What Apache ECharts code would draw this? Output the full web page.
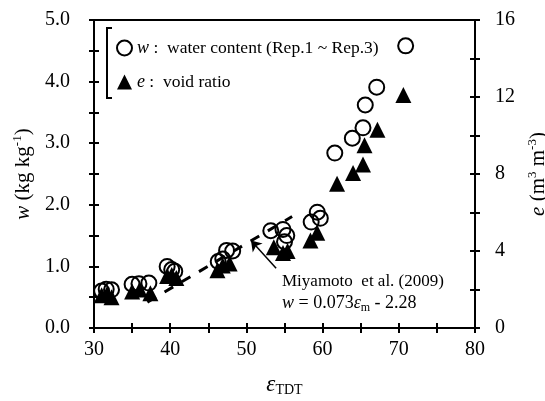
<!DOCTYPE html>
<html>
<head>
<meta charset="utf-8">
<script src="https://cdn.jsdelivr.net/npm/echarts@6/dist/echarts.min.js"></script>
<style>
  html, body { margin: 0; padding: 0; background: #fff; }
  #chart { width: 545px; height: 401px; }
</style>
</head>
<body>
<div id="chart"></div>
<script>
	// w : water content (Rep.1 ~ Rep.3)
	var epsW = [31.0, 31.6, 32.3, 35.0, 35.9, 37.2, 39.6, 40.2, 40.6, 46.3, 46.9, 47.4, 48.2,
		53.2, 54.8, 55.3, 55.0, 58.5, 59.3, 59.7, 61.6, 63.9, 65.3, 65.6, 67.1, 70.9];
	var wVals = [0.60, 0.63, 0.62, 0.71, 0.72, 0.73, 1.00, 0.95, 0.92, 1.08, 1.12, 1.26, 1.25,
		1.58, 1.60, 1.50, 1.40, 1.72, 1.88, 1.78, 2.84, 3.08, 3.25, 3.62, 3.91, 4.58];
	// e : void ratio
	var epsE = [31.0, 31.7, 32.3, 35.0, 36.0, 37.4, 39.6, 40.2, 40.8, 46.2, 46.9, 47.8,
		53.6, 54.8, 55.4, 58.4, 59.3, 61.9, 64.0, 65.3, 65.5, 67.2, 70.6];
	var eVals = [1.70, 1.75, 1.60, 1.90, 2.00, 1.80, 2.70, 2.75, 2.60, 3.00, 3.25, 3.35,
		4.20, 3.90, 4.00, 4.55, 4.95, 7.50, 8.05, 8.50, 9.50, 10.30, 12.10];
	// Miyamoto et al. (2009) line, end points
	var lineEps = [37, 56];
	var lineW = [0.42, 1.81];
	// arrow: from text to line
	var arrowFrom = [53.9, 0.97];
	var arrowTo = [50.6, 1.42];

	var font = 'Liberation Serif';
	var dom = document.getElementById('chart');
	var myChart = echarts.init(dom);

	function pairs(xs, ys) {
		var out = [];
		for (var i = 0; i < xs.length; i++) {
			out.push([xs[i], ys[i]]);
		}
		return out;
	}

	var lineStyleAxis = { color: '#000', width: 2 };
	var tickOut = { show: true, inside: false, length: 5, lineStyle: { color: '#000', width: 2 } };
	var tickIn = { show: true, inside: true, length: 5, lineStyle: { color: '#000', width: 2 } };
	var supRich = {
		i: { fontFamily: font, fontSize: 21, fontStyle: 'italic', color: '#000' },
		n: { fontFamily: font, fontSize: 21, color: '#000' },
		sup: { fontFamily: font, fontSize: 13, color: '#000', padding: [0, 0, 12, 0] }
	};

	var option = {
		animation: false,
		grid: {
			left: 94, right: 70, top: 20, bottom: 73,
			containLabel: false, outerBoundsMode: 'none',
			show: true, borderColor: '#000', borderWidth: 2
		},
		legend: {
			orient: 'vertical',
			left: 111,
			top: 34,
			itemWidth: 15,
			itemHeight: 15,
			itemGap: 16,
			textStyle: {
				fontFamily: font, fontSize: 18, color: '#000',
				rich: {
					i: { fontFamily: font, fontSize: 18, fontStyle: 'italic', color: '#000' },
					n: { fontFamily: font, fontSize: 17.5, color: '#000' }
				}
			},
			data: [
				{ name: 'w', icon: 'circle', itemStyle: { color: 'rgba(0,0,0,0)', borderColor: '#000', borderWidth: 2 } },
				{ name: 'e', icon: 'triangle', itemStyle: { color: '#000' } }
			],
			formatter: function (name) {
				if (name === 'w') {
					return '{i|w}{n| :  water content (Rep.1 ~ Rep.3)}';
				}
				return '{i|e}{n| :  void ratio}';
			}
		},
		xAxis: [{
			type: 'value', min: 30, max: 80, interval: 5,
			axisLine: { lineStyle: lineStyleAxis },
			axisTick: tickOut,
			splitLine: { show: false },
			axisLabel: {
				margin: 12, fontFamily: font, fontSize: 20, color: '#000',
				formatter: function (v) { return v % 10 === 0 ? String(v) : ''; }
			},
			name: '{e|ε}{s|TDT}',
			nameLocation: 'middle',
			nameGap: 45,
			nameTextStyle: {
				rich: {
					e: { fontFamily: font, fontSize: 23, fontStyle: 'italic', color: '#000' },
					s: { fontFamily: font, fontSize: 14, color: '#000', padding: [10, 0, 0, 0] }
				}
			}
		}, {
			type: 'value', min: 30, max: 80, interval: 5, position: 'bottom',
			axisLine: { show: false }, axisTick: tickIn,
			axisLabel: { show: false }, splitLine: { show: false }
		}],
		yAxis: [{
			type: 'value', min: 0, max: 5, interval: 0.5, position: 'left',
			axisLine: { show: true, lineStyle: lineStyleAxis },
			axisTick: tickOut,
			splitLine: { show: false },
			axisLabel: {
				margin: 24, fontFamily: font, fontSize: 20, color: '#000',
				formatter: function (v) { return v % 1 === 0 ? v.toFixed(1) : ''; }
			},
			name: '{i|w}{n| (kg kg}{sup|-1}{n|)}',
			nameLocation: 'middle',
			nameRotate: 90,
			nameGap: 50,
			nameTextStyle: { rich: supRich }
		}, {
			type: 'value', min: 0, max: 16, interval: 2, position: 'right',
			axisLine: { show: true, lineStyle: lineStyleAxis },
			axisTick: tickOut,
			splitLine: { show: false },
			axisLabel: {
				margin: 20, fontFamily: font, fontSize: 20, color: '#000',
				formatter: function (v) { return v % 4 === 0 ? String(v) : ''; }
			},
			name: '{i|e}{n| (m}{sup|3}{n| m}{sup|-3}{n|)}',
			nameLocation: 'middle',
			nameRotate: 90,
			nameGap: 45,
			nameTextStyle: { rich: supRich }
		}, {
			type: 'value', min: 0, max: 5, interval: 0.5, position: 'left',
			axisLine: { show: false }, axisTick: tickIn,
			axisLabel: { show: false }, splitLine: { show: false }
		}, {
			type: 'value', min: 0, max: 16, interval: 2, position: 'right',
			axisLine: { show: false }, axisTick: tickIn,
			axisLabel: { show: false }, splitLine: { show: false }
		}],
		series: [{
			name: 'Miyamoto',
			type: 'line',
			yAxisIndex: 0,
			symbol: 'none',
			data: pairs(lineEps, lineW),
			lineStyle: { color: '#000', width: 3, type: [10, 10] },
			z: 1,
			markLine: {
				silent: true,
				symbol: ['none', 'arrow'],
				symbolSize: 10,
				label: { show: false },
				lineStyle: { color: '#000', width: 1.5, type: 'solid' },
				data: [[{ coord: arrowFrom }, { coord: arrowTo }]]
			}
		}, {
			name: 'e',
			type: 'scatter',
			yAxisIndex: 1,
			symbol: 'triangle',
			symbolSize: 16,
			itemStyle: { color: '#000', opacity: 1 },
			data: pairs(epsE, eVals),
			z: 2
		}, {
			name: 'w',
			type: 'scatter',
			yAxisIndex: 0,
			symbol: 'circle',
			symbolSize: 15,
			itemStyle: { color: 'rgba(0,0,0,0)', borderColor: '#000', borderWidth: 2, opacity: 1 },
			data: pairs(epsW, wVals),
			z: 3
		}],
		graphic: [{
			type: 'polyline',
			shape: { points: [[112, 28], [107, 28], [107, 98], [112, 98]] },
			style: { stroke: '#000', lineWidth: 2, fill: null }
		}, {
			type: 'text',
			left: 282,
			top: 273,
			style: { text: 'Miyamoto  et al. (2009)', font: '17px "Liberation Serif"', fill: '#000' }
		}, {
			type: 'text',
			left: 282,
			top: 294,
			style: {
				text: '{i|w}{n| = 0.073}{i|ε}{s|m}{n| - 2.28}',
				rich: {
					i: { fontFamily: font, fontSize: 18, fontStyle: 'italic', fill: '#000' },
					n: { fontFamily: font, fontSize: 18, fill: '#000' },
					s: { fontFamily: font, fontSize: 12, fill: '#000', padding: [9, 0, 0, 0] }
				}
			}
		}]
	};
	myChart.setOption(option);
</script>
</body>
</html>
